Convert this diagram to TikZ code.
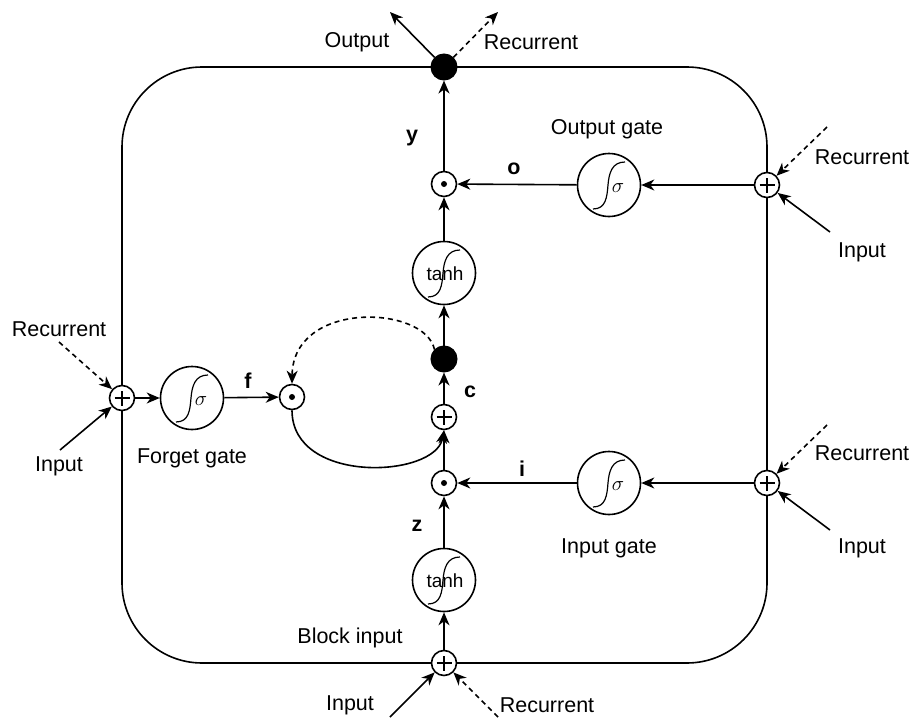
\documentclass[tikz,border=0pt]{standalone}
\usepackage{fontspec}
\setmainfont{Liberation Sans}
\usetikzlibrary{arrows.meta}
\newcommand\sigS[1]{%
  \begin{scope}[shift={(#1.center)}]
    \draw[line width=1.2pt] (-16,24) .. controls (-3,24) and (-2,12) .. (-1,0)
      .. controls (0,-12) and (3,-23) .. (16,-23);
  \end{scope}}
\begin{document}
\begin{tikzpicture}[x=1pt,y=-1pt,
  ln/.style={line width=1.6pt},
  arr/.style={ln,-{Stealth[length=13pt,width=11pt,inset=4pt]}},
  darr/.style={arr,dash pattern=on 5pt off 4pt},
  gate/.style={circle,draw,line width=1.6pt,fill=white,minimum size=63pt,inner sep=0pt},
  opc/.style={circle,draw,line width=1.6pt,fill=white,minimum size=25pt,inner sep=0pt},
  blk/.style={circle,fill=black,draw,line width=1pt,minimum size=26pt,inner sep=0pt},
  lbl/.style={font=\fontsize{21.5}{25}\selectfont,inner sep=0pt},
  bl/.style={font=\fontsize{21.5}{25}\selectfont\bfseries,inner sep=0pt},
  sig/.style={font=\fontsize{22}{22}\selectfont,inner sep=0pt},
  th/.style={font=\fontsize{19}{19}\selectfont,inner sep=0pt}]
\useasboundingbox (0,0) rectangle (911,720);

% block
\draw[ln,rounded corners=80pt] (122,67) rectangle (767,663);

% nodes
\node[blk] (td) at (444,67) {};
\node[opc] (my) at (444,184) {};
\node[gate] (ty) at (444,273) {};
\node[blk] (cd) at (444,359) {};
\node[opc] (pc) at (444,417) {};
\node[opc] (mi) at (444,483) {};
\node[gate] (tz) at (444,580) {};
\node[opc] (bp) at (444,663) {};
\node[gate] (og) at (609,185) {};
\node[gate] (ig) at (609,483) {};
\node[gate] (fg) at (192,398) {};
\node[opc] (mf) at (292,397) {};
\node[opc] (lp) at (122,398) {};
\node[opc] (rp1) at (767,185) {};
\node[opc] (rp2) at (767,483) {};

% symbols inside
\foreach \n in {my,mi,mf}{\fill (\n.center) circle (3pt);}
\foreach \n in {pc,bp,lp,rp1,rp2}{\draw[line width=1.3pt] ([xshift=-7.5pt]\n.center) -- ([xshift=7.5pt]\n.center) ([yshift=-7.5pt]\n.center) -- ([yshift=7.5pt]\n.center);}
\sigS{og}\sigS{ig}\sigS{fg}\sigS{ty}\sigS{tz}
\node[sig] (sgo) at ([shift={(9,3)}]og.center) {$\sigma$};
\node[sig] (sgi) at ([shift={(9,3)}]ig.center) {$\sigma$};
\node[sig] (sgf) at ([shift={(9,3)}]fg.center) {$\sigma$};
\node[th] (tty) at ([shift={(1,1)}]ty.center) {tanh};
\node[th] (ttz) at ([shift={(1,1)}]tz.center) {tanh};

% coordinates for free ends
\coordinate (outT) at (390,12);
\coordinate (recT) at (498,12);
\coordinate (r1R) at (827,127);
\coordinate (r1I) at (830,232);
\coordinate (r2R) at (827,425);
\coordinate (r2I) at (830,530);
\coordinate (lR) at (59,342);
\coordinate (lI) at (60,450);
\coordinate (bI) at (390,717);
\coordinate (bR) at (498,717);

% main connectors
\draw[arr] (bp) -- (tz);
\draw[arr] (tz) -- (mi);
\draw[arr] (mi) -- (pc);
\draw[arr] (pc) -- (cd);
\draw[arr] (cd) -- (ty);
\draw[arr] (ty) -- (my);
\draw[arr] (my) -- (td);
\draw[arr] (td) -- (outT);
\draw[darr] (td) -- (recT);
\draw[arr] (rp1) -- (og);
\draw[arr] (og) -- (my);
\draw[arr] (rp2) -- (ig);
\draw[arr] (ig) -- (mi);
\draw[arr] (lp) -- (fg);
\draw[arr] (fg) -- (mf);
\draw[darr] (cd.north west) .. controls (425,305) and (293,300) .. (mf.north);
\draw[arr] (mf.south) .. controls (292,485) and (435,478) .. (pc.south);

% inputs
\draw[darr] (r1R) -- (rp1);
\draw[arr] (r1I) -- (rp1);
\draw[darr] (r2R) -- (rp2);
\draw[arr] (r2I) -- (rp2);
\draw[darr] (lR) -- (lp);
\draw[arr] (lI) -- (lp);
\draw[arr] (bI) -- (bp);
\draw[darr] (bR) -- (bp);

% labels
\node[lbl] (tOut) at (357,42) {Output};
\node[lbl] (tRecT) at (531,42) {Recurrent};
\node[bl] (ly) at (412,138) {y};
\node[lbl] (tOG) at (607,129) {Output gate};
\node[bl] (lo) at (514,169) {o};
\node[lbl] (tR1) at (862,157) {Recurrent};
\node[lbl] (tI1) at (862,252) {Input};
\node[lbl] (tRL) at (59,329) {Recurrent};
\node[lbl] (tIL) at (59,466) {Input};
\node[bl] (lf) at (248,381) {f};
\node[lbl] (tFG) at (192,458) {Forget gate};
\node[bl] (lc) at (470,392) {c};
\node[lbl] (tR2) at (862,453) {Recurrent};
\node[lbl] (tI2) at (862,548) {Input};
\node[bl] (li) at (522,469) {i};
\node[lbl] (tIG) at (609,548) {Input gate};
\node[bl] (lz) at (417,526) {z};
\node[lbl] (tBI) at (350,638) {Block input};
\node[lbl] (tIB) at (350,705) {Input};
\node[lbl] (tRB) at (547,705) {Recurrent};
\end{tikzpicture}
\end{document}
